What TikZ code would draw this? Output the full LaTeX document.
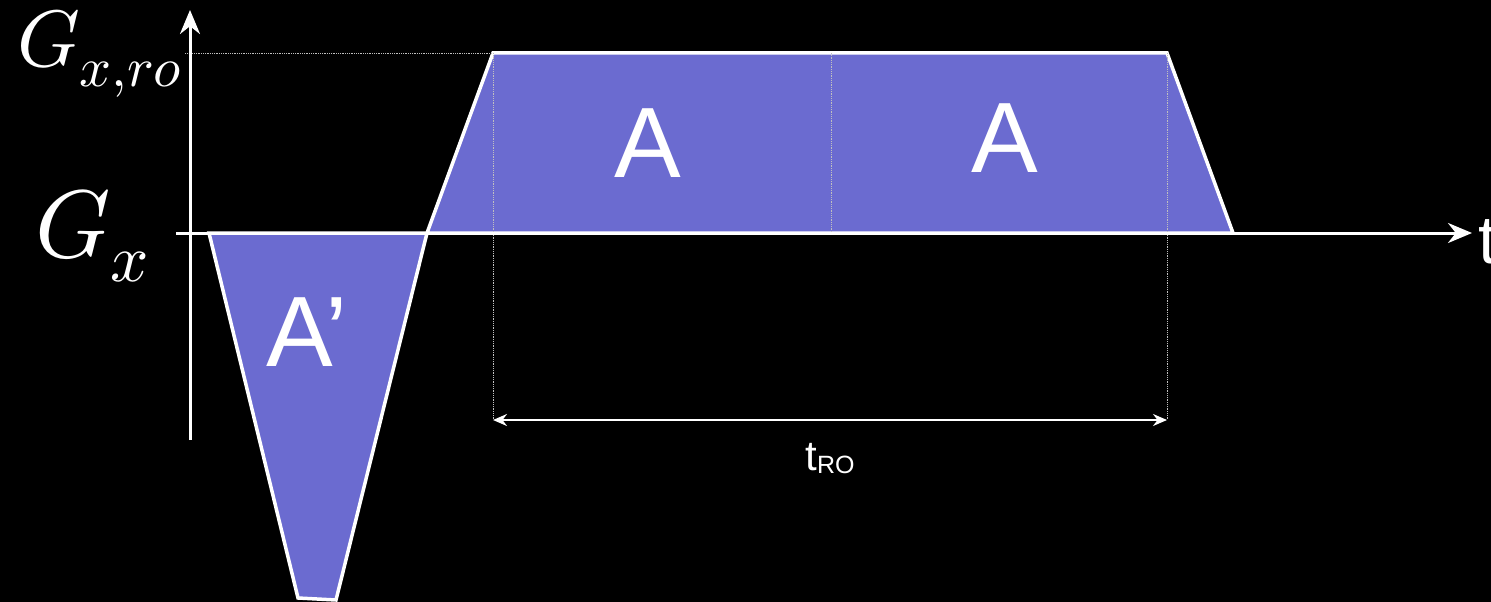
\documentclass[tikz,border=0pt]{standalone}
\usepackage{fontspec}
\setmainfont{Liberation Sans}
\usepackage{unicode-math}
\setmathfont{Latin Modern Math}
\usetikzlibrary{arrows.meta}
\definecolor{lobe}{RGB}{107,107,208}
\tikzset{
  lobeshape/.style={fill=lobe,draw=white,line width=3.5pt,line join=miter},
  axisline/.style={draw=white,line width=3pt},
  guide/.style={draw=white!75!black,line width=0.8pt,densely dotted},
  biglabel/.style={text=white,font=\fontsize{100}{120}\selectfont,inner sep=0pt},
  mathlabel/.style={text=white,inner sep=0pt},
}
\begin{document}
\begin{tikzpicture}[x=1pt,y=-1pt]
\fill[black] (0,0) rectangle (1491,602);
\useasboundingbox (0,0) rectangle (1491,602);
% coordinates
\coordinate (ytop) at (190,10);
\coordinate (ybot) at (190,440);
\coordinate (xl) at (176,233);
\coordinate (xr) at (1472,233);
\coordinate (p1) at (427,233);
\coordinate (p2) at (493,53);
\coordinate (p3) at (1167,53);
\coordinate (p4) at (1233,233);
\coordinate (m1) at (831,53);
\coordinate (m2) at (831,233);
\coordinate (n1) at (209,233);
\coordinate (n2) at (336,600);
\coordinate (n3) at (298,598);
\coordinate (g1) at (185,53);
\coordinate (d1) at (493,420);
\coordinate (d2) at (1167,420);
% lobes
\path[lobeshape] (p1) -- (p2) -- (p3) -- (p4) -- cycle;
\path[lobeshape] (n1) -- (p1) -- (n2) -- (n3) -- cycle;
% guides
\draw[guide] (g1) -- (p2);
\draw[guide] (m1) -- (m2);
\draw[guide] (p2) -- (d1);
\draw[guide] (p3) -- (d2);
% axes
\draw[axisline,-{Stealth[length=24pt,width=20pt]}] (ybot) -- (ytop);
\draw[axisline,-{Stealth[length=24pt,width=20pt]}] (xl) -- (xr);
\draw[axisline] (n1) -- (p1);
% duration arrow
\draw[white,line width=2pt,{Stealth[length=14pt,width=12pt]}-{Stealth[length=14pt,width=12pt]}] (d1) -- (d2);
% labels
\node[biglabel] (la1) at (648,143) {A};
\node[biglabel] (la2) at (1005,138) {A};
\node[biglabel] (lap) at (307,332) {A’};
\node[text=white,font=\fontsize{68}{80}\selectfont,inner sep=0pt,anchor=base west] (lt) at (1478,263) {t};
\node[text=white,inner sep=0pt,anchor=base] (ltro) at (830,470) {\fontsize{42}{50}\selectfont t\raisebox{-3pt}{\fontsize{25}{30}\selectfont RO}};
\node[mathlabel,anchor=east,font=\fontsize{80}{96}\selectfont] (lgro) at (182,54) {$G_{x,ro}$};
\node[mathlabel,anchor=east,font=\fontsize{96}{115}\selectfont] (lgx) at (150,236) {$G_x$};
\end{tikzpicture}
\end{document}
